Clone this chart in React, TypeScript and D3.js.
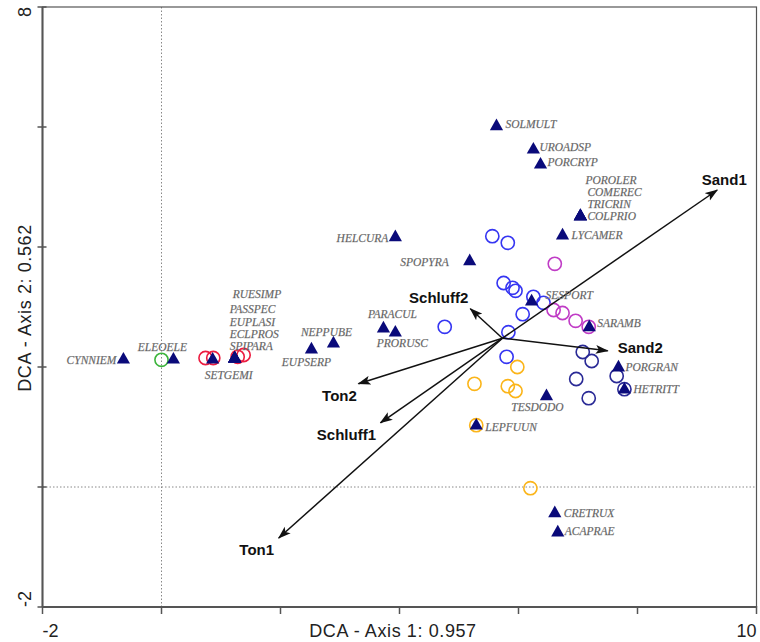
import React from "react";
import * as d3 from "d3";

// ---------- data ----------
const speciesNames = [
  "SOLMULT", "UROADSP", "PORCRYP", "POROLER", "COMEREC", "TRICRIN", "COLPRIO",
  "LYCAMER", "HELCURA", "SPOPYRA", "SESPORT", "SARAMB", "PARACUL", "PRORUSC",
  "NEPPUBE", "EUPSERP", "SETGEMI", "RUESIMP", "PASSPEC", "EUPLASI", "ECLPROS",
  "SPIPARA", "CYNNIEM", "ELEOELE", "TESDODO", "LEPFUUN", "PORGRAN", "HETRITT",
  "CRETRUX", "ACAPRAE",
];
const speciesX = [
  5.63, 6.25, 6.37, 7.04, 7.04, 7.04, 7.04,
  6.74, 3.93, 5.18, 6.22, 7.19, 3.73, 3.93,
  2.89, 2.52, 0.86, 1.23, 1.23, 1.23, 1.23,
  1.23, -0.64, 0.2, 6.47, 5.29, 7.68, 7.78,
  6.61, 6.66,
];
const speciesY = [
  6.02, 5.63, 5.38, 4.52, 4.52, 4.52, 4.52,
  4.2, 4.17, 3.77, 3.1, 2.67, 2.65, 2.58,
  2.4, 2.3, 2.13, 2.15, 2.15, 2.15, 2.15,
  2.15, 2.13, 2.13, 1.52, 1.03, 2.0, 1.63,
  -0.43, -0.75,
];

// sample groups
const groupNames = ["blue", "purple", "navy", "orange", "green", "red"];
const blueX = [5.56, 5.82, 5.75, 5.9, 5.95, 6.25, 6.42, 6.07, 4.76, 5.83, 5.8];
const blueY = [4.18, 4.07, 3.4, 3.32, 3.27, 3.17, 3.07, 2.88, 2.67, 2.58, 2.17];
const purpleX = [6.61, 6.59, 6.74, 6.96, 7.18];
const purpleY = [3.72, 2.95, 2.9, 2.77, 2.67];
const navyX = [7.08, 7.23, 6.97, 7.18, 7.65, 7.78];
const navyY = [2.25, 2.1, 1.8, 1.48, 1.85, 1.63];
const orangeX = [5.98, 5.26, 5.82, 5.95, 5.29, 6.2];
const orangeY = [2.0, 1.72, 1.68, 1.6, 1.03, -0.02];
const greenX = [0.0];
const greenY = [2.12];
const redX = [0.74, 0.87, 1.28, 1.38];
const redY = [2.15, 2.15, 2.17, 2.2];

// environmental arrows
const arrowOrigin = [5.73, 2.48];
const envNames = ["Sand1", "Sand2", "Schluff2", "Ton2", "Schluff1", "Ton1"];
const envX = [9.34, 7.5, 5.19, 3.31, 3.68, 1.97];
const envY = [4.95, 2.27, 2.97, 1.72, 1.07, -0.85];

const xDomain = [-2, 10];
const yDomain = [-2, 8];
const xTitle = "DCA - Axis 1: 0.957";
const yTitle = "DCA - Axis 2: 0.562";

// ---------- layout / style ----------
const W = 760;
const H = 642;
const plot = { left: 42.5, right: 756.5, top: 7, bottom: 607 };

const groupColor: Record<string, string> = {
  blue: "#3636f2",
  purple: "#c03cc6",
  navy: "#2a2a96",
  orange: "#fbb51a",
  green: "#3cb43c",
  red: "#ec1c40",
};

// label offsets (px) relative to the species point: [dx, dy, anchor]
const speciesLabelLayout: Record<string, [number, number, string]> = {
  SOLMULT: [9, 2, "start"],
  UROADSP: [6, 2, "start"],
  PORCRYP: [7, 2, "start"],
  COLPRIO: [7, 4, "start"],
  TRICRIN: [7, -8, "start"],
  COMEREC: [7, -20, "start"],
  POROLER: [5, -32, "start"],
  LYCAMER: [9, 4, "start"],
  HELCURA: [-7, 5, "end"],
  SPOPYRA: [-21, 5, "end"],
  SESPORT: [14, -2, "start"],
  SARAMB: [8, 0, "start"],
  PARACUL: [9, -10, "middle"],
  PRORUSC: [7, 15, "middle"],
  NEPPUBE: [-7, -7, "middle"],
  EUPSERP: [-5, 17, "middle"],
  SETGEMI: [16, 20, "middle"],
  SPIPARA: [-5, -8, "start"],
  ECLPROS: [-5, -20, "start"],
  EUPLASI: [-5, -32, "start"],
  PASSPEC: [-5, -45, "start"],
  RUESIMP: [-2, -60, "start"],
  CYNNIEM: [-7, 5, "end"],
  ELEOELE: [-11, -8, "middle"],
  TESDODO: [-9, 15, "middle"],
  LEPFUUN: [9, 6, "start"],
  PORGRAN: [7, 4, "start"],
  HETRITT: [9, 4, "start"],
  CRETRUX: [9, 4, "start"],
  ACAPRAE: [7, 3, "start"],
};

const envLabelLayout: Record<string, [number, number, string]> = {
  Sand1: [7, -5, "middle"],
  Sand2: [10, 2, "start"],
  Schluff2: [-2, -6, "end"],
  Ton2: [-19, 17, "middle"],
  Schluff1: [-34, 17, "middle"],
  Ton1: [-22, 17, "middle"],
};

export default function App() {
  const x = d3.scaleLinear().domain(xDomain).range([plot.left, plot.right]);
  const y = d3.scaleLinear().domain(yDomain).range([plot.bottom, plot.top]);

  const xTicks = x.ticks(6);
  const yTicks = y.ticks(5);

  const groups = [
    { name: "blue", xs: blueX, ys: blueY },
    { name: "purple", xs: purpleX, ys: purpleY },
    { name: "navy", xs: navyX, ys: navyY },
    { name: "orange", xs: orangeX, ys: orangeY },
    { name: "green", xs: greenX, ys: greenY },
    { name: "red", xs: redX, ys: redY },
  ].filter((g) => groupNames.includes(g.name));

  const triPath = "M0,-7.2L6.6,4.4L-6.6,4.4Z";
  const ox = x(arrowOrigin[0]);
  const oy = y(arrowOrigin[1]);

  const axisColor = "#555";
  const sansFont = "'Liberation Sans', Arial, sans-serif";
  const yLabelX = 31;

  return (
    <svg
      width={W}
      height={H}
      style={{ position: "absolute", left: 0, top: 0, background: "#fff" }}
    >
      <defs>
        <marker
          id="arrowHead"
          viewBox="0 0 13 10"
          refX="12"
          refY="5"
          markerWidth="13"
          markerHeight="10"
          markerUnits="userSpaceOnUse"
          orient="auto"
        >
          <path d="M0,0.5L13,5L0,9.5L3,5Z" fill="#111" />
        </marker>
      </defs>

      {/* zero reference lines */}
      <line
        x1={x(0)}
        x2={x(0)}
        y1={plot.top}
        y2={plot.bottom}
        stroke="#888"
        strokeWidth={1}
        strokeDasharray="1.5,2"
      />
      <line
        x1={plot.left}
        x2={plot.right}
        y1={y(0)}
        y2={y(0)}
        stroke="#888"
        strokeWidth={1}
        strokeDasharray="1.5,2"
      />

      {/* frame */}
      <rect
        x={plot.left}
        y={plot.top}
        width={plot.right - plot.left}
        height={plot.bottom - plot.top}
        fill="none"
        stroke={axisColor}
        strokeWidth={1.2}
      />
      <line x1={plot.left} x2={plot.left} y1={plot.top} y2={plot.bottom} stroke={axisColor} strokeWidth={2} />
      <line x1={plot.left} x2={plot.right} y1={plot.bottom} y2={plot.bottom} stroke={axisColor} strokeWidth={2} />

      {/* ticks */}
      {xTicks.map((t) => (
        <line key={"xt" + t} x1={x(t)} x2={x(t)} y1={plot.bottom - 1} y2={plot.bottom + 7} stroke={axisColor} strokeWidth={1.5} />
      ))}
      {yTicks.map((t) => (
        <line key={"yt" + t} x1={plot.left - 5} x2={plot.left + 4} y1={y(t)} y2={y(t)} stroke={axisColor} strokeWidth={1.5} />
      ))}

      {/* tick labels at the ends */}
      <text x={x(xDomain[0])} y={637} fontFamily={sansFont} fontSize={18} fill="#222" textAnchor="start">
        {String(xDomain[0])}
      </text>
      <text x={x(xDomain[1])} y={637} fontFamily={sansFont} fontSize={18} fill="#222" textAnchor="end">
        {String(xDomain[1])}
      </text>
      <text
        transform={`translate(${yLabelX},${y(yDomain[1])}) rotate(-90)`}
        fontFamily={sansFont}
        fontSize={18}
        fill="#222"
        textAnchor="end"
      >
        {String(yDomain[1])}
      </text>
      <text
        transform={`translate(${yLabelX},${y(yDomain[0])}) rotate(-90)`}
        fontFamily={sansFont}
        fontSize={18}
        fill="#222"
        textAnchor="start"
      >
        {String(yDomain[0])}
      </text>

      {/* axis titles */}
      <text
        x={393}
        y={637}
        fontFamily={sansFont}
        fontSize={18}
        letterSpacing={0.6}
        fill="#222"
        textAnchor="middle"
      >
        {xTitle}
      </text>
      <text
        transform={`translate(${yLabelX},${308}) rotate(-90)`}
        fontFamily={sansFont}
        fontSize={18}
        letterSpacing={0.6}
        fill="#222"
        textAnchor="middle"
      >
        {yTitle}
      </text>

      {/* sample circles */}
      {groups.map((g) =>
        g.xs.map((v, i) => (
          <circle
            key={g.name + i}
            cx={x(v)}
            cy={y(g.ys[i])}
            r={6.6}
            fill="none"
            stroke={groupColor[g.name]}
            strokeWidth={1.6}
          />
        ))
      )}

      {/* environmental arrows */}
      {envNames.map((n, i) => {
        const tx = x(envX[i]);
        const ty = y(envY[i]);
        const [dx, dy, anchor] = envLabelLayout[n];
        return (
          <g key={n}>
            <line
              x1={ox}
              y1={oy}
              x2={tx}
              y2={ty}
              stroke="#111"
              strokeWidth={1.5}
              markerEnd="url(#arrowHead)"
            />
            <text
              x={tx + dx}
              y={ty + dy}
              fontFamily={sansFont}
              fontWeight="bold"
              fontSize={15}
              fill="#111"
              textAnchor={anchor as any}
            >
              {n}
            </text>
          </g>
        );
      })}

      {/* species triangles */}
      {speciesNames.map((n, i) => (
        <path
          key={"tri" + n}
          d={triPath}
          transform={`translate(${x(speciesX[i])},${y(speciesY[i])})`}
          fill="#0a0a7a"
        />
      ))}

      {/* species labels */}
      {speciesNames.map((n, i) => {
        const [dx, dy, anchor] = speciesLabelLayout[n] || [8, 4, "start"];
        return (
          <text
            key={"lab" + n}
            x={x(speciesX[i]) + dx}
            y={y(speciesY[i]) + dy}
            fontFamily="'Liberation Serif', 'Times New Roman', serif"
            fontStyle="italic"
            fontSize={11.5}
            fill="#505050"
            stroke="#999"
            strokeWidth={0.25}
            textAnchor={anchor as any}
          >
            {n}
          </text>
        );
      })}
    </svg>
  );
}
